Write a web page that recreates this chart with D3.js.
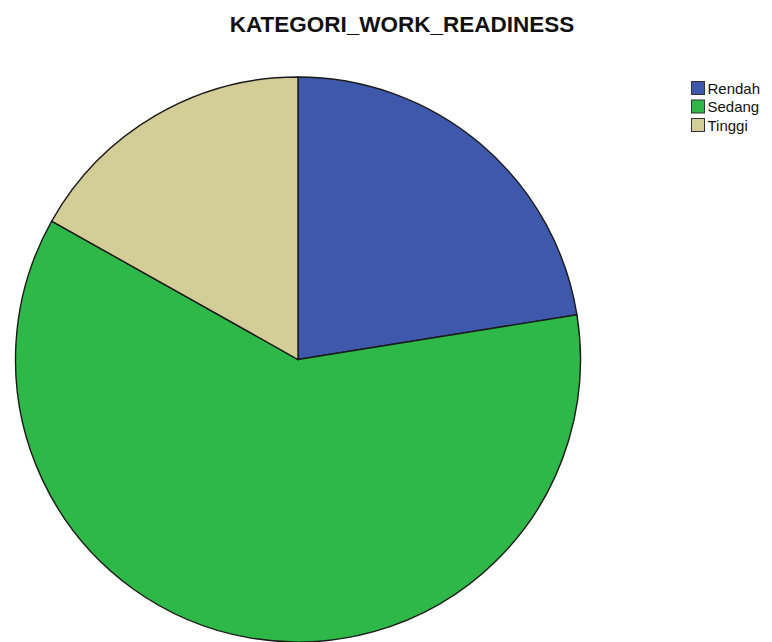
<!DOCTYPE html>
<html>
<head>
<meta charset="utf-8">
<script src="https://cdn.jsdelivr.net/npm/d3@7"></script>
<style>
  html, body { margin: 0; padding: 0; background: #fff; }
  svg { display: block; }
</style>
</head>
<body>
<svg id="chart" width="772" height="642"></svg>
<script>
// Frequency counts for each work-readiness category
const categories = ["Rendah", "Sedang", "Tinggi"];
const counts = [20, 54, 15];
const colors = ["#3e58ac", "#2eb848", "#d3ce97"];
const title = "KATEGORI_WORK_READINESS";

const svg = d3.select("#chart");

const cx = 298, cy = 359.5, radius = 282.5;

svg.append("text")
  .attr("x", 402)
  .attr("y", 32)
  .attr("text-anchor", "middle")
  .attr("font-family", "Liberation Sans, Arial, sans-serif")
  .attr("font-weight", "bold")
  .attr("font-size", 22.5)
  .attr("fill", "#111")
  .text(title);

const data = categories.map((c, i) => ({ category: c, count: counts[i], color: colors[i] }));

const pie = d3.pie().value(d => d.count).sort(null);
const arc = d3.arc().innerRadius(0).outerRadius(radius);

svg.append("g")
  .attr("transform", `translate(${cx},${cy})`)
  .selectAll("path")
  .data(pie(data))
  .join("path")
  .attr("d", arc)
  .attr("fill", d => d.data.color)
  .attr("stroke", "#1a1a1a")
  .attr("stroke-width", 1.4);

// Legend
const legend = svg.append("g").attr("transform", "translate(691.5,81.5)");
const item = legend.selectAll("g")
  .data(data)
  .join("g")
  .attr("transform", (d, i) => `translate(0,${i * 18.5})`);
item.append("rect")
  .attr("width", 13).attr("height", 13)
  .attr("fill", d => d.color)
  .attr("stroke", "#333").attr("stroke-width", 1);
item.append("text")
  .attr("x", 16).attr("y", 12)
  .attr("font-family", "Liberation Sans, Arial, sans-serif")
  .attr("font-size", 15)
  .attr("fill", "#111")
  .text(d => d.category);
</script>
</body>
</html>
